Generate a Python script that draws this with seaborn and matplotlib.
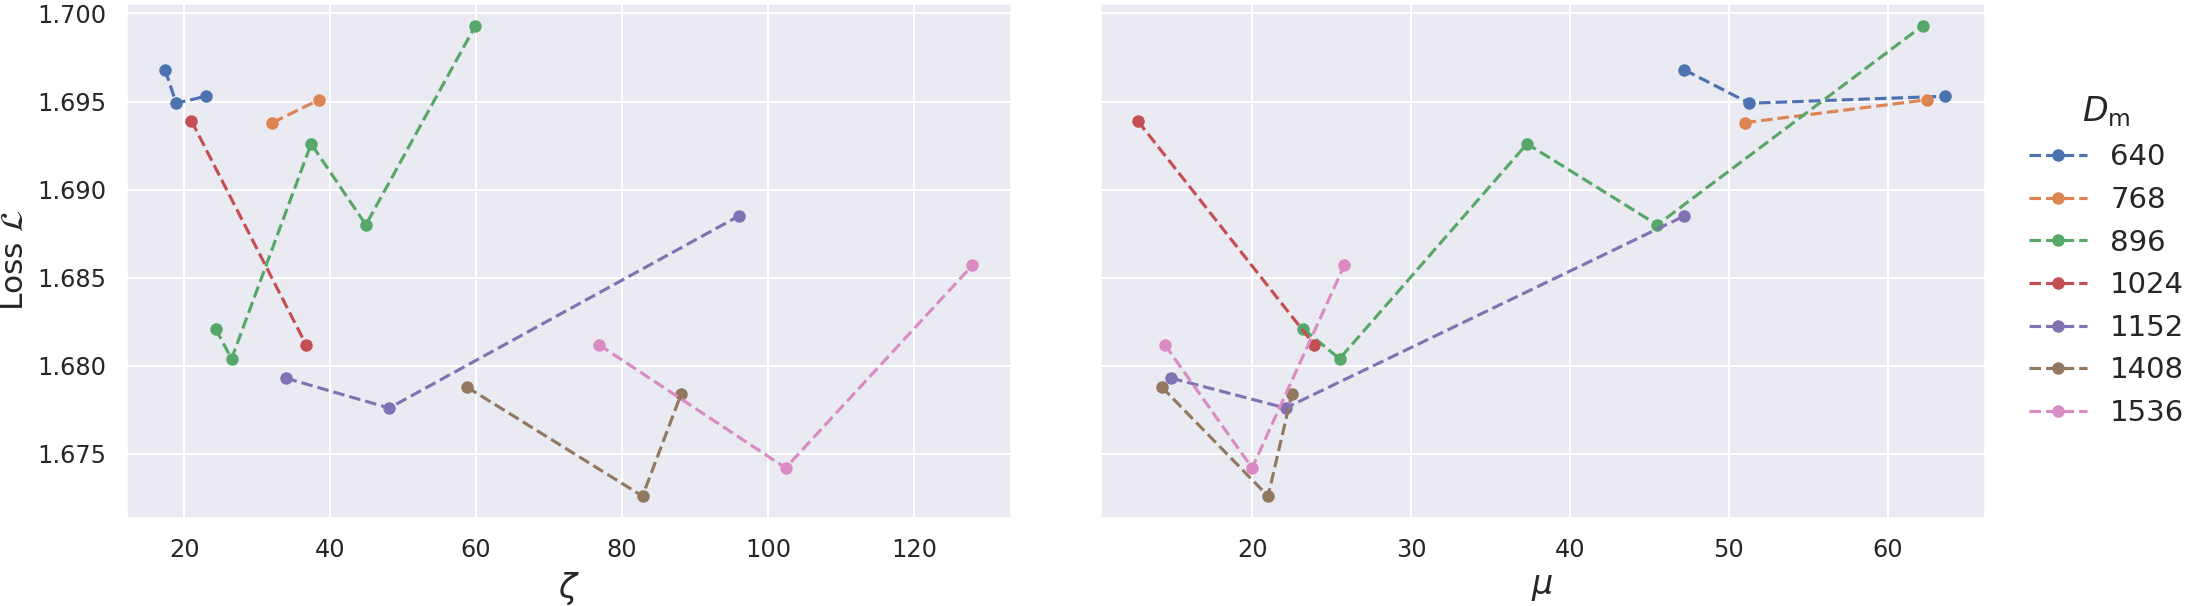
import numpy as np
import pandas as pd
import matplotlib
matplotlib.use("Agg")
import matplotlib.pyplot as plt
import seaborn as sns

dm = [640]*3 + [768]*2 + [896]*5 + [1024]*2 + [1152]*3 + [1408]*3 + [1536]*3
zeta = [17.4, 18.9, 23.0,
        32.1, 38.5,
        24.3, 26.5, 37.4, 44.9, 59.9,
        21.0, 36.7,
        33.9, 48.1, 96.0,
        58.7, 82.8, 88.1,
        76.8, 102.4, 128.0]
mu = [47.2, 51.3, 63.6,
      51.0, 62.5,
      23.2, 25.5, 37.3, 45.5, 62.2,
      12.8, 23.9,
      14.9, 22.1, 47.2,
      14.3, 21.0, 22.5,
      14.5, 20.0, 25.8]
loss = [1.6968, 1.6949, 1.6953,
        1.6938, 1.6951,
        1.6821, 1.6804, 1.6926, 1.6880, 1.6993,
        1.6939, 1.6812,
        1.6793, 1.6776, 1.6885,
        1.6788, 1.6726, 1.6784,
        1.6812, 1.6742, 1.6857]

df = pd.DataFrame({"Dm": dm, "zeta": zeta, "mu": mu, "loss": loss})
df["Dm"] = df["Dm"].astype(str)
order = ["640", "768", "896", "1024", "1152", "1408", "1536"]

sns.set_theme(style="darkgrid")
fig, axes = plt.subplots(1, 2, figsize=(14.75, 4.04), dpi=150, sharey=True)
pal = sns.color_palette("deep", 7)
for ax, xcol in zip(axes, ["zeta", "mu"]):
    sns.lineplot(data=df, x=xcol, y="loss", hue="Dm", hue_order=order, palette=pal,
                 marker="o", markersize=6, markeredgewidth=0, linestyle="--",
                 ax=ax, legend=(xcol == "mu"))
    ax.tick_params(labelsize=11.5)
axes[0].set_xlim(12.05, 133.3)
axes[1].set_xlim(10.4, 66.1)
axes[0].set_ylim(1.67135, 1.70059)
axes[0].set_yticks([1.675, 1.680, 1.685, 1.690, 1.695, 1.700])
axes[0].set_yticklabels(["1.675", "1.680", "1.685", "1.690", "1.695", "1.700"])
axes[1].set_xticks([20, 30, 40, 50, 60])
axes[0].set_xlabel(r"$\zeta$", fontsize=16)
axes[1].set_xlabel(r"$\mu$", fontsize=16)
axes[0].set_ylabel(r"Loss $\mathcal{L}$", fontsize=15)
axes[1].set_ylabel("")
leg = axes[1].get_legend()
handles, labels = axes[1].get_legend_handles_labels()
leg.remove()
axes[1].legend(handles, labels, title=r"$D_\mathrm{m}$", loc="center left",
               bbox_to_anchor=(1.02, 0.5), frameon=False, fontsize=14, title_fontsize=16)
fig.subplots_adjust(left=0.057, right=0.897, bottom=0.145, top=0.995, wspace=0.1)
fig.savefig("out.png")
